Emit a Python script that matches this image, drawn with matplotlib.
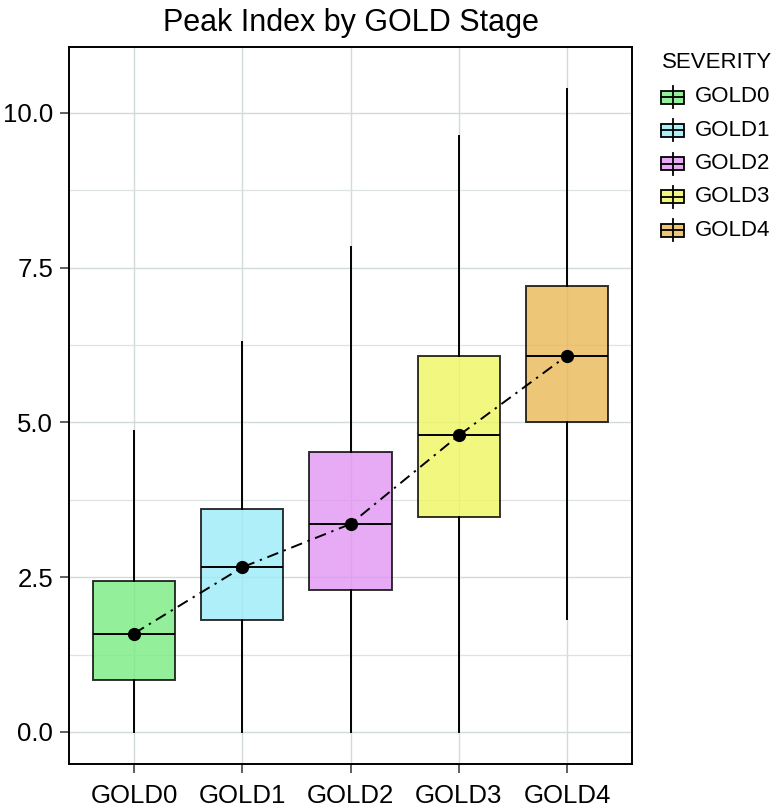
import numpy as np
import matplotlib
matplotlib.use("Agg")
import matplotlib.pyplot as plt
from matplotlib.patches import Rectangle


# =====================================================
# DATA
# =====================================================

stages = ["GOLD0", "GOLD1", "GOLD2", "GOLD3", "GOLD4"]
whisker_low = [0.0, 0.0, 0.0, 0.0, 1.83]
q1 = [0.84, 1.81, 2.30, 3.48, 5.00]
median = [1.59, 2.66, 3.36, 4.79, 6.08]
q3 = [2.44, 3.61, 4.53, 6.07, 7.21]
whisker_high = [4.87, 6.30, 7.83, 9.62, 10.39]
center_points = [1.59, 2.66, 3.36, 4.79, 6.08]

fill_colors = ["#78EC81", "#9AECF9", "#E295F3", "#EFF660", "#EAB856"]

plt.rcParams["font.family"] = ["Liberation Sans", "DejaVu Sans"]

W, H = 776, 811
fig = plt.figure(figsize=(W / 100, H / 100), dpi=100)
ax = fig.add_axes([69 / W, 1 - 764 / H, (632 - 69) / W, (764 - 47.3) / H])

grid_col = "#D3DADA"
lw = 1.4

# =====================================================
# BOXES
# =====================================================

stats = []
for i, s in enumerate(stages):
    stats.append(dict(label=s, whislo=whisker_low[i], q1=q1[i], med=median[i],
                      q3=q3[i], whishi=whisker_high[i], fliers=[]))

x = np.arange(len(stages))
bp = ax.bxp(stats, positions=x, widths=0.76, patch_artist=True,
            showcaps=False, showfliers=False,
            boxprops=dict(linewidth=lw, edgecolor="black"),
            medianprops=dict(color="black", linewidth=lw),
            whiskerprops=dict(color="black", linewidth=lw),
            zorder=3)
for patch, c in zip(bp["boxes"], fill_colors):
    patch.set_facecolor(c)
    patch.set_alpha(0.8)
    patch.set_edgecolor("black")

ax.plot(x, center_points, color="black", linestyle=(0, (6, 3, 1.2, 3)),
        linewidth=lw, marker="o", markersize=8.5, zorder=5)

# =====================================================
# AXES STYLING
# =====================================================

ax.set_xlim(-0.6, 4.6)
ax.set_ylim(-0.517, 11.06)
ax.set_xticks(x)
ax.set_xticklabels(stages)
ax.set_yticks([0, 2.5, 5.0, 7.5, 10.0])
ax.set_yticklabels(["0.0", "2.5", "5.0", "7.5", "10.0"])
ax.set_yticks([1.25, 3.75, 6.25, 8.75], minor=True)
ax.tick_params(axis="y", which="minor", length=0)
ax.tick_params(axis="both", which="major", length=6.5, width=1.1,
               labelsize=18.5, color="#333333")
ax.tick_params(axis="x", pad=8)
ax.tick_params(axis="y", pad=5)

ax.grid(True, which="major", color=grid_col, linewidth=1.0, zorder=0)
ax.grid(True, which="minor", axis="y", color="#DDE3E3", linewidth=0.9, zorder=0)
ax.set_axisbelow(True)
for sp in ax.spines.values():
    sp.set_linewidth(1.4)
    sp.set_color("black")

ax.set_title("Peak Index by GOLD Stage", fontsize=22, pad=12)

# =====================================================
# LEGEND (drawn by hand, ggplot style)
# =====================================================

lg = fig.add_axes([0, 0, 1, 1], zorder=10)
lg.set_xlim(0, W)
lg.set_ylim(H, 0)
lg.axis("off")
lg.text(662, 62, "SEVERITY", fontsize=16, va="center", ha="left")
for i, (s, c) in enumerate(zip(stages, fill_colors)):
    yc = 97 + i * 33.3
    lg.plot([672.5, 672.5], [yc - 11, yc + 11], color="black", lw=1.3)
    lg.add_patch(Rectangle((661, yc - 6.5), 23, 13, facecolor=c, alpha=0.8,
                           edgecolor="none"))
    lg.add_patch(Rectangle((661, yc - 6.5), 23, 13, facecolor="none",
                           edgecolor="black", lw=1.3))
    lg.plot([661, 684], [yc, yc], color="black", lw=1.3)
    lg.text(695, yc, s, fontsize=16, va="center", ha="left")

fig.savefig("out.png", dpi=100)
